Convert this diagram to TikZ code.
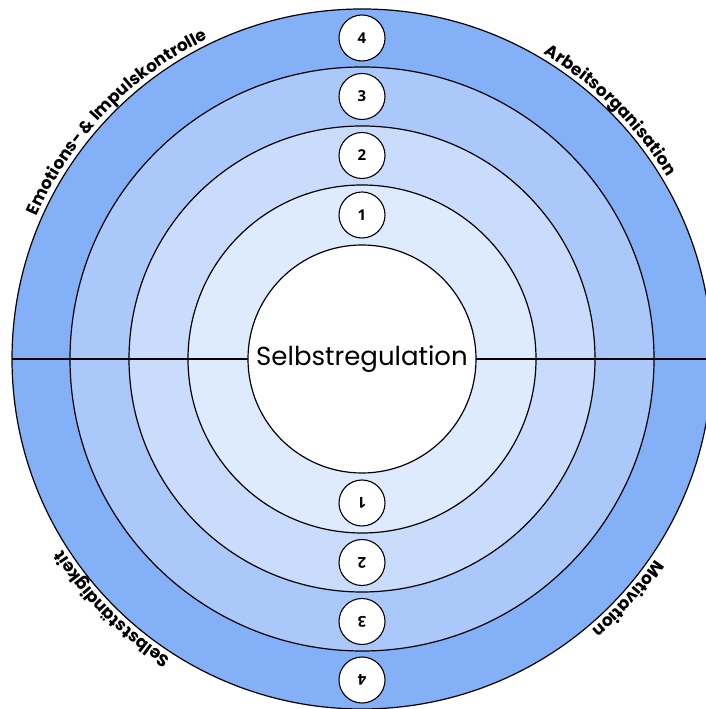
\documentclass[tikz,border=0pt]{standalone}
\usepackage{fontspec}
\setmainfont{Poppins}
\newfontfamily\numfont{Open Sans}
\usetikzlibrary{calc,decorations.text}
\definecolor{ringD}{RGB}{132,176,247}
\definecolor{ringC}{RGB}{171,200,250}
\definecolor{ringB}{RGB}{201,220,252}
\definecolor{ringA}{RGB}{222,234,253}
\newcommand\arclabfont{\fontsize{17}{20}\selectfont\bfseries}
\tikzset{
  ring/.style={draw=black, line width=1.2pt},
  numc/.style={circle, draw=black, line width=1.1pt, fill=white, minimum size=46pt, inner sep=0pt, font=\numfont\bfseries\fontsize{15}{18}\selectfont},
  core/.style={circle, draw=black, line width=1.2pt, fill=white, minimum size=228pt, inner sep=0pt, font=\fontsize{26}{30}\selectfont},
  divider/.style={draw=black, line width=1.2pt},
}
\begin{document}
\begin{tikzpicture}[x=1pt,y=1pt]
\useasboundingbox (0,0) rectangle (706,709);
\coordinate (c) at (362,350);
\fill[ringD, ring] (c) circle[radius=350pt];
\fill[ringC, ring] (c) circle[radius=292pt];
\fill[ringB, ring] (c) circle[radius=233pt];
\fill[ringA, ring] (c) circle[radius=174pt];
\coordinate (L) at ($(c)+(-350,0)$);
\coordinate (R) at ($(c)+(350,0)$);
\draw[divider] (L) -- (R);
\node[core] (core) at (c) {Selbstregulation};
% numbers top
\node[numc] (t1) at ($(c)+(0,144)$) {1};
\node[numc] (t2) at ($(c)+(0,203.5)$) {2};
\node[numc] (t3) at ($(c)+(0,262.5)$) {3};
\node[numc] (t4) at ($(c)+(0,321)$) {4};
% numbers bottom
\node[numc, rotate=180] (b1) at ($(c)+(0,-144)$) {1};
\node[numc, rotate=180] (b2) at ($(c)+(0,-203.5)$) {2};
\node[numc, rotate=180] (b3) at ($(c)+(0,-262.5)$) {3};
\node[numc, rotate=180] (b4) at ($(c)+(0,-321)$) {4};
% curved labels
\path[decorate, decoration={text along path, text align=center, text={|\arclabfont|Emotions- {\&} Impulskontrolle}}]
  ($(c)+(176:355pt)$) arc[start angle=176, end angle=96, radius=355pt];
\path[decorate, decoration={text along path, text align=center, text={|\arclabfont|Arbeitsorganisation}}]
  ($(c)+(85:355pt)$) arc[start angle=85, end angle=5, radius=355pt];
\path[decorate, decoration={text along path, text align=center, text={|\arclabfont|Selbstständigkeit}}]
  ($(c)+(265:355pt)$) arc[start angle=265, end angle=185, radius=355pt];
\path[decorate, decoration={text along path, text align=center, text={|\arclabfont|Motivation}}]
  ($(c)+(358:355pt)$) arc[start angle=358, end angle=278, radius=355pt];
\end{tikzpicture}
\end{document}
